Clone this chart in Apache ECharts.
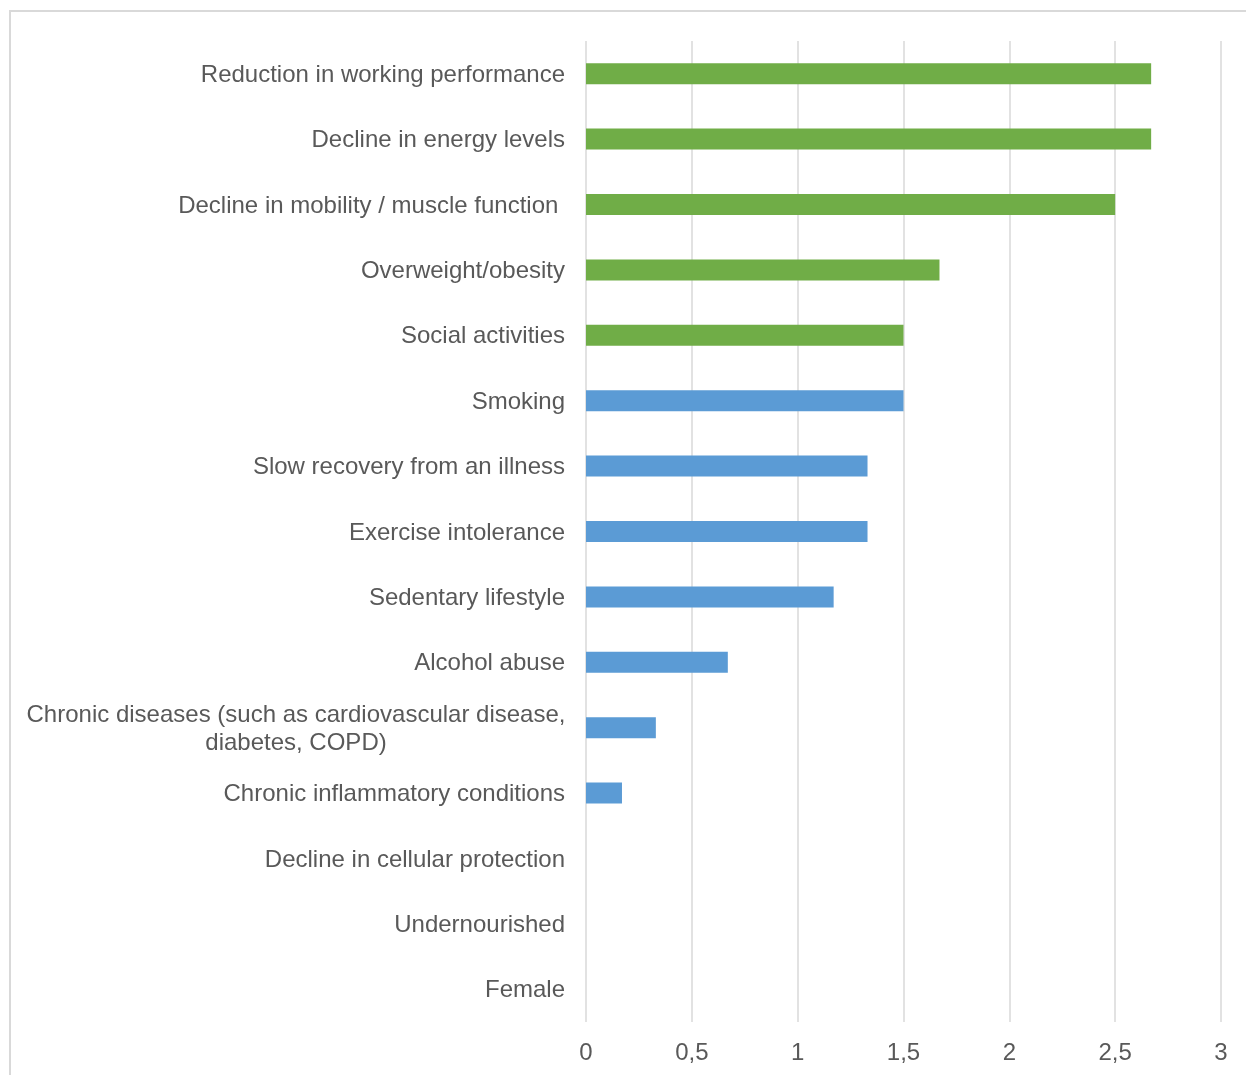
<!DOCTYPE html>
<html>
<head>
<meta charset="utf-8">
<script src="https://cdn.jsdelivr.net/npm/echarts@6/dist/echarts.min.js"></script>
<style>
html,body{margin:0;padding:0;width:1246px;height:1075px;overflow:hidden;background:#fff;}
#frame{position:absolute;left:9px;top:10px;width:1260px;height:1090px;border:2px solid #d9d9d9;box-sizing:border-box;}
#chart{position:absolute;left:0;top:0;width:1246px;height:1075px;}
</style>
</head>
<body>
<div id="frame"></div>
<div id="chart"></div>
<script>
var categories = [
  'Reduction in working performance',
  'Decline in energy levels',
  'Decline in mobility / muscle function ',
  'Overweight/obesity',
  'Social activities',
  'Smoking',
  'Slow recovery from an illness',
  'Exercise intolerance',
  'Sedentary lifestyle',
  'Alcohol abuse',
  'Chronic diseases (such as cardiovascular disease,\ndiabetes, COPD)',
  'Chronic inflammatory conditions',
  'Decline in cellular protection',
  'Undernourished',
  'Female'
];
var values = [2.67, 2.67, 2.5, 1.67, 1.5, 1.5, 1.33, 1.33, 1.17, 0.67, 0.33, 0.17, 0, 0, 0];
var groups = ['green','green','green','green','green','blue','blue','blue','blue','blue','blue','blue','blue','blue','blue'];
var groupColors = { green: '#70AD47', blue: '#5B9BD5' };
var xTicks = { min: 0, max: 3, interval: 0.5 };

var chart = echarts.init(document.getElementById('chart'), null, { renderer: 'canvas' });
var FONT = 'Liberation Sans, Arial, sans-serif';
chart.setOption({
  animation: false,
  grid: { left: 586, right: 25, top: 41, bottom: 53, containLabel: false },
  xAxis: {
    type: 'value',
    min: xTicks.min, max: xTicks.max, interval: xTicks.interval,
    axisLine: { show: false },
    axisTick: { show: false },
    splitLine: { show: true, lineStyle: { color: '#d9d9d9', width: 1.5 } },
    axisLabel: {
      color: '#595959', fontSize: 24, fontFamily: FONT, margin: 19,
      formatter: function (v) { return String(v).replace('.', ','); }
    }
  },
  yAxis: {
    type: 'category',
    inverse: true,
    data: categories,
    axisLine: { show: false },
    axisTick: { show: false },
    axisLabel: {
      color: '#595959', fontSize: 24, fontFamily: FONT, margin: 21, interval: 0,
      padding: [3, 0, 0, 0],
      formatter: function (v) {
        if (v.indexOf('\n') >= 0) {
          return v.split('\n').map(function (l) { return '{c|' + l + '}'; }).join('\n');
        }
        return v;
      },
      rich: {
        c: { width: 538, align: 'center', color: '#595959', fontSize: 24, fontFamily: FONT, lineHeight: 28 }
      }
    }
  },
  series: [{
    type: 'bar',
    barWidth: 21,
    data: values.map(function (v, i) {
      return { value: v, itemStyle: { color: groupColors[groups[i]] } };
    })
  }]
});
</script>
</body>
</html>
